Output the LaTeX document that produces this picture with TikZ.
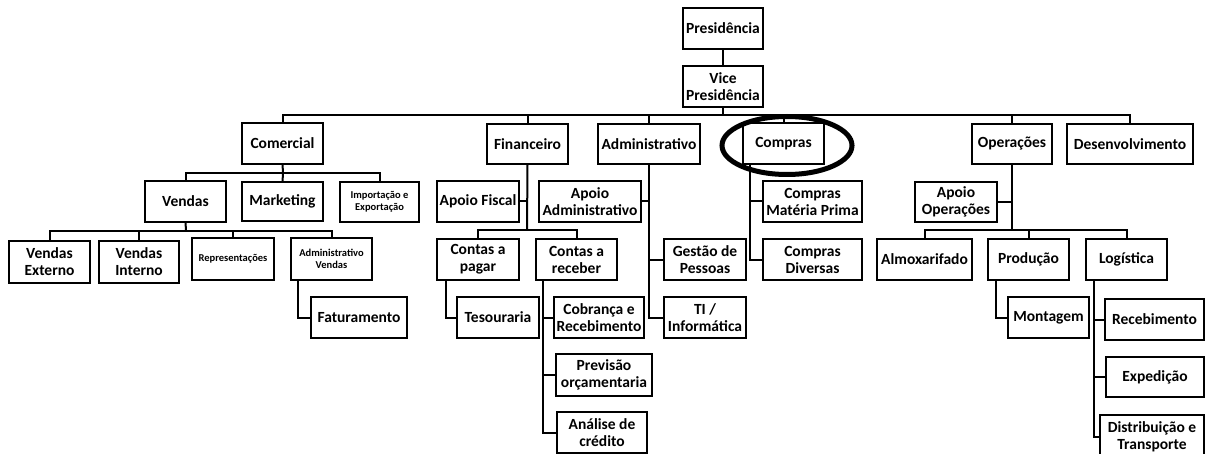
\documentclass[tikz,border=0pt]{standalone}
\usepackage{fontspec}
\setmainfont{Carlito}
\tikzset{
  box/.style={draw=black, line width=2pt, fill=white, inner sep=0pt, outer sep=0pt, align=center,
              font=\fontsize{15.5}{17}\selectfont\bfseries},
  smallbox/.style={box, font=\fontsize{10.5}{12.5}\selectfont\bfseries},
  link/.style={draw=black, line width=2pt},
  mark ring/.style={draw=black, line width=5pt}
}
% \bx[style]{name}{left}{top}{right}{bottom}{text}
\newcommand\bx[7][box]{%
  \node[#1, minimum width={#5-#3}, minimum height={#6-#4}] (#2) at ({(#3+#5)/2},{(#4+#6)/2}) {#7};}
\begin{document}
\begin{tikzpicture}[x=1pt,y=-1pt]
\useasboundingbox[fill=white] (0,0) rectangle (1206,454);
% top
\bx{pres}{683}{8}{763}{49}{Presidência}
\bx{vice}{683}{66}{763}{107}{Vice\\Presidência}
% level 1
\bx{comercial}{242}{123}{323}{164}{Comercial}
\bx{financeiro}{487}{124}{568}{164}{Financeiro}
\bx{administrativo}{598}{124}{700}{164}{Administrativo}
\bx{compras}{743}{123}{824}{164}{Compras}
\bx{operacoes}{972}{124}{1052}{164}{Operações}
\bx{desenv}{1067}{124}{1193}{164}{Desenvolvimento}
% comercial
\bx{vendas}{145}{181}{226}{222}{Vendas}
\bx{marketing}{242}{182}{323}{221}{Marketing}
\bx[smallbox]{importacao}{340}{182}{419}{222}{Importação e\\Exportação}
\bx{vext}{9}{241}{90}{283}{Vendas\\Externo}
\bx{vint}{99}{241}{179}{283}{Vendas\\Interno}
\bx[smallbox]{repres}{192}{238}{274}{280}{Representações}
\bx[smallbox]{admvendas}{291}{238}{372}{280}{Administrativo\\Vendas}
\bx{faturamento}{311}{297}{407}{338}{Faturamento}
% financeiro
\bx{apoiofiscal}{437}{181}{519}{222}{Apoio Fiscal}
\bx{contaspagar}{437}{239}{519}{280}{Contas a\\pagar}
\bx{contasreceber}{536}{239}{617}{280}{Contas a\\receber}
\bx{tesouraria}{457}{297}{539}{338}{Tesouraria}
\bx{cobranca}{554}{297}{644}{338}{Cobrança e\\Recebimento}
\bx{previsao}{556}{354}{652}{396}{Previsão\\orçamentaria}
\bx{analise}{557}{412}{647}{453}{Análise de\\crédito}
% administrativo
\bx{apoioadm}{539}{181}{641}{222}{Apoio\\Administrativo}
\bx{gestao}{664}{239}{746}{280}{Gestão de\\Pessoas}
\bx{ti}{664}{297}{746}{338}{TI /\\Informática}
% compras
\bx{comprasmp}{763}{181}{862}{222}{Compras\\Matéria Prima}
\bx{comprasdiv}{763}{239}{862}{280}{Compras\\Diversas}
% operacoes
\bx{apoioop}{915}{182}{997}{222}{Apoio\\Operações}
\bx{almox}{877}{239}{972}{280}{Almoxarifado}
\bx{producao}{988}{239}{1069}{280}{Produção}
\bx{logistica}{1086}{239}{1167}{280}{Logística}
\bx{montagem}{1008}{297}{1089}{338}{Montagem}
\bx{recebimento}{1105}{299}{1204}{340}{Recebimento}
\bx{expedicao}{1106}{357}{1204}{397}{Expedição}
\bx{distrib}{1100}{415}{1204}{458}{Distribuição e\\Transporte}

% bus coordinates
\coordinate (busTop) at (723,115);
\coordinate (busCom) at (283,173);
\coordinate (busVen) at (186,231);
\coordinate (busFin) at (527,230);
\coordinate (busOp) at (1012,230);
\coordinate (admV) at (298,280);
\coordinate (cpV) at (446,280);
\coordinate (crV) at (543,280);
\coordinate (prodV) at (996,280);
\coordinate (logV) at (1094,280);
\coordinate (admColumn) at (649,164);
\coordinate (compColumn) at (750,164);

\begin{scope}[on background layer/.try]
\end{scope}
% connectors
\draw[link] (pres) -- (vice);
\draw[link] (vice.south) -- (busTop);
\draw[link] (comercial.north) |- (busTop) -| (desenv.north);
\foreach \n in {financeiro,administrativo,compras,operacoes}
  \draw[link] (\n.north) -- (\n.north |- busTop);
% comercial
\draw[link] (comercial.south) -- (busCom);
\draw[link] (vendas.north) |- (busCom) -| (importacao.north);
\draw[link] (marketing.north) -- (busCom);
\draw[link] (vendas.south) -- (busVen);
\draw[link] (vext.north) |- (busVen) -| (admvendas.north);
\draw[link] (vint.north) -- (vint.north |- busVen);
\draw[link] (repres.north) -- (repres.north |- busVen);
\draw[link] (admV) |- (faturamento.west);
% financeiro
\draw[link] (financeiro.south) -- (busFin);
\draw[link] (apoiofiscal.east) -- (apoiofiscal.east -| busFin);
\draw[link] (contaspagar.north) |- (busFin) -| (contasreceber.north);
\draw[link] (cpV) |- (tesouraria.west);
\draw[link] (crV) |- (analise.west);
\draw[link] (cobranca.west) -- (cobranca.west -| crV);
\draw[link] (previsao.west) -- (previsao.west -| crV);
% administrativo
\draw[link] (admColumn) |- (ti.west);
\draw[link] (apoioadm.east) -- (apoioadm.east -| admColumn);
\draw[link] (gestao.west) -- (gestao.west -| admColumn);
% compras
\draw[link] (compColumn) |- (comprasdiv.west);
\draw[link] (comprasmp.west) -- (comprasmp.west -| compColumn);
% operacoes
\draw[link] (operacoes.south) -- (busOp);
\draw[link] (apoioop.east) -- (apoioop.east -| busOp);
\draw[link] (almox.north) |- (busOp) -| (logistica.north);
\draw[link] (producao.north) -- (producao.north |- busOp);
\draw[link] (prodV) |- (montagem.west);
\draw[link] (logV) |- (distrib.west);
\draw[link] (recebimento.west) -- (recebimento.west -| logV);
\draw[link] (expedicao.west) -- (expedicao.west -| logV);
% highlight ring
\draw[mark ring] (787,145.5) ellipse [x radius=65, y radius=29];
\end{tikzpicture}
\end{document}
